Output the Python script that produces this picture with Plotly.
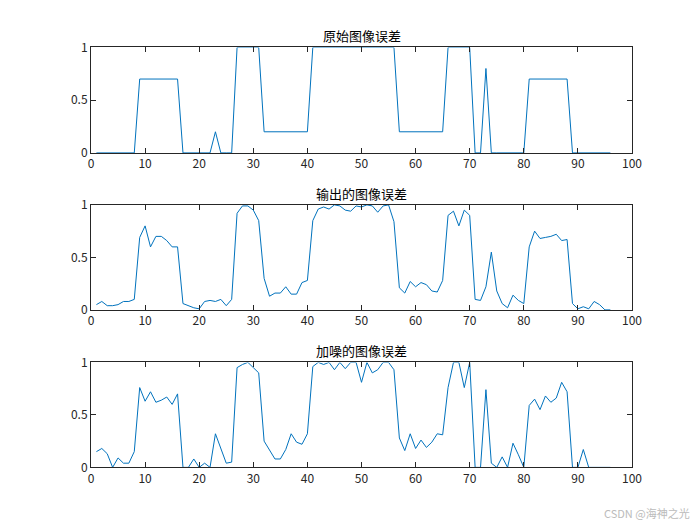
import plotly.graph_objects as go
from plotly.subplots import make_subplots

x = list(range(1, 97))

original = [0]*8 + [0.7]*8 + [0]*6 + [0.2] + [0]*3 + [1]*5 + [0.2]*9 + [1]*16 + [0.2]*9 + [1]*5 + [0, 0, 0.8] + [0]*7 + [0.7]*8 + [0]*8

output = [0.05, 0.08, 0.04, 0.04, 0.05, 0.08, 0.08, 0.1, 0.69, 0.8, 0.6, 0.7, 0.7, 0.66, 0.6, 0.6,
          0.06, 0.04, 0.02, 0.01, 0.08, 0.09, 0.08, 0.1, 0.04, 0.1, 0.92, 0.99, 0.99, 0.95, 0.85, 0.3,
          0.13, 0.16, 0.16, 0.22, 0.15, 0.15, 0.26, 0.28, 0.85, 0.96, 0.98, 0.96, 1.0, 0.99, 0.95, 0.94,
          0.99, 0.98, 1.0, 0.99, 0.93, 0.99, 1.0, 0.84, 0.21, 0.16, 0.27, 0.22, 0.26, 0.24, 0.18, 0.17,
          0.28, 0.9, 0.94, 0.8, 0.95, 0.9, 0.1, 0.09, 0.22, 0.55, 0.18, 0.06, 0.02, 0.14, 0.09, 0.06,
          0.6, 0.75, 0.68, 0.69, 0.7, 0.72, 0.66, 0.67, 0.06, 0.01, 0.03, 0.01, 0.08, 0.05, 0, 0]

noisy = [0.15, 0.18, 0.13, 0.0, 0.09, 0.04, 0.04, 0.15, 0.76, 0.63, 0.72, 0.62, 0.64, 0.67, 0.6, 0.7,
         0, 0, 0.08, 0, 0.04, 0, 0.32, 0.17, 0.04, 0.05, 0.95, 0.98, 1.0, 0.95, 0.9, 0.25,
         0.16, 0.08, 0.08, 0.17, 0.32, 0.24, 0.22, 0.32, 0.96, 1.0, 0.98, 1.0, 0.93, 1.0, 0.94, 1.0,
         1.0, 0.81, 1.0, 0.9, 0.93, 1.0, 1.0, 0.93, 0.28, 0.16, 0.32, 0.18, 0.26, 0.19, 0.24, 0.32,
         0.31, 0.76, 1.0, 1.0, 0.76, 1.0, 0, 0, 0.74, 0.04, 0, 0.1, 0, 0.23, 0.12, 0,
         0.59, 0.65, 0.55, 0.68, 0.62, 0.66, 0.81, 0.72, 0, 0, 0.17, 0, 0, 0, 0, 0]

titles = ["原始图像误差", "输出的图像误差", "加噪的图像误差"]
series = [original, output, noisy]

fig = make_subplots(rows=3, cols=1, subplot_titles=titles, vertical_spacing=0.1)
for i, s in enumerate(series, 1):
    fig.add_trace(go.Scatter(x=x, y=s, mode="lines", line=dict(color="#0072BD", width=1)), row=i, col=1)
    fig.update_xaxes(range=[0, 100], dtick=10, row=i, col=1)
    fig.update_yaxes(range=[0, 1], tickvals=[0, 0.5, 1], ticktext=["0", "0.5", "1"], row=i, col=1)

fig.update_xaxes(showline=True, mirror="ticks", linecolor="#262626", linewidth=1, ticks="inside",
                 ticklen=5, tickcolor="#262626", showgrid=False, zeroline=False)
fig.update_yaxes(showline=True, mirror="ticks", linecolor="#262626", linewidth=1, ticks="inside",
                 ticklen=5, tickcolor="#262626", showgrid=False, zeroline=False)

# page body adds ~8px offset, so domains are shifted up a bit
doms = [(0.724, 0.925), (0.425, 0.625), (0.125, 0.325)]
for i, d in enumerate(doms, 1):
    fig.layout[f"yaxis{'' if i == 1 else i}"].domain = d
    fig.layout.annotations[i-1].y = d[1]
    fig.layout.annotations[i-1].yshift = 0
    fig.layout.annotations[i-1].font = dict(size=13, color="#000")

fig.add_annotation(text="CSDN @海神之光", xref="paper", yref="paper", x=1.11, y=0.02,
                   showarrow=False, font=dict(size=11, color="#bbbbbb"), xanchor="right",
                   yanchor="bottom")

fig.update_layout(width=700, height=525, showlegend=False, plot_bgcolor="white", paper_bgcolor="white",
                  margin=dict(l=83, r=76, t=0, b=0, autoexpand=False),
                  font=dict(family="Noto Sans CJK SC, Arial", size=12, color="#262626"))
fig.write_html("out.html")
